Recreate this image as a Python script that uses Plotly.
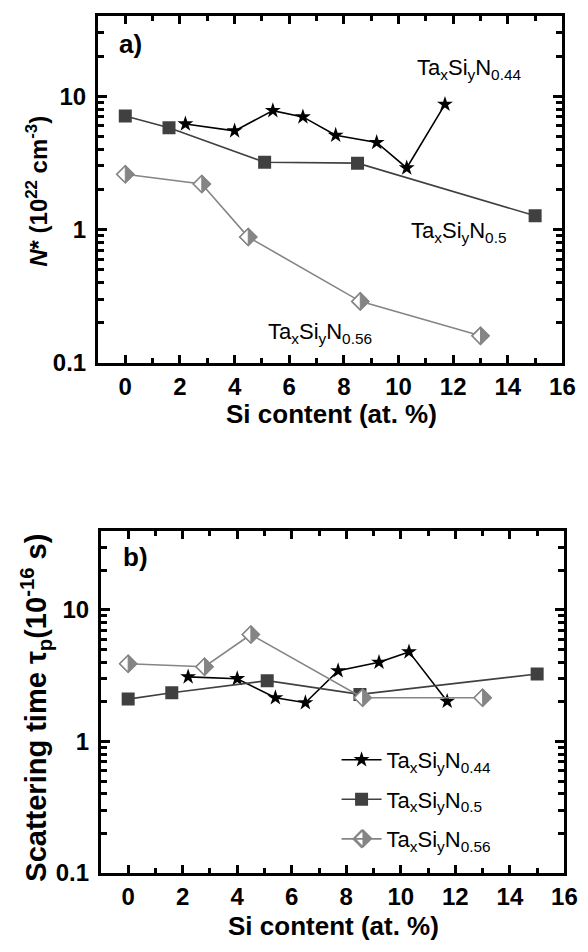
import plotly.graph_objects as go

W, H = 588, 952

# ---------------- data ----------------
x_044 = [2.2, 4.0, 5.4, 6.5, 7.7, 9.2, 10.3, 11.7]
x_050 = [0, 1.6, 5.1, 8.5, 15]
x_056 = [0, 2.8, 4.5, 8.6, 13]

N_044 = [6.2, 5.5, 7.8, 7.0, 5.1, 4.5, 2.9, 8.7]
N_050 = [7.1, 5.8, 3.2, 3.15, 1.27]
N_056 = [2.6, 2.2, 0.88, 0.29, 0.16]

tau_044 = [3.1, 3.0, 2.15, 1.97, 3.45, 4.0, 4.8, 2.02]
tau_050 = [2.1, 2.35, 2.9, 2.28, 3.26]
tau_056 = [3.9, 3.7, 6.5, 2.15, 2.15]

names = ["Ta<sub>x</sub>Si<sub>y</sub>N<sub>0.44</sub>",
         "Ta<sub>x</sub>Si<sub>y</sub>N<sub>0.5</sub>",
         "Ta<sub>x</sub>Si<sub>y</sub>N<sub>0.56</sub>"]

x_ticks = [0, 2, 4, 6, 8, 10, 12, 14, 16]
x_minor = [1, 3, 5, 7, 9, 11, 13, 15]
y_ticks = [0.1, 1, 10]
y_ticktext = ["0.1", "1", "10"]
y_minor = [0.2, 0.3, 0.4, 0.5, 0.6, 0.7, 0.8, 0.9,
           2, 3, 4, 5, 6, 7, 8, 9, 20, 30, 40]

# ---------------- style ----------------
FONT = "Liberation Sans"
C_STAR = "#000000"
C_SQ = "#404040"
C_DIA = "#858585"
D_HALF = 8.5  # half size of diamond (px)

def px(x):
    return x / W

def py(y):
    return 1 - y / H

fig = go.Figure()

def add_series(ys, xaxis, yaxis, showlegend):
    fig.add_trace(go.Scatter(
        x=x_044, y=ys[0], mode="lines+markers", name=names[0],
        line=dict(color=C_STAR, width=1.6),
        marker=dict(symbol="star", size=12, color=C_STAR),
        xaxis=xaxis, yaxis=yaxis, showlegend=showlegend, legendgroup="a"))
    fig.add_trace(go.Scatter(
        x=x_050, y=ys[1], mode="lines+markers", name=names[1],
        line=dict(color=C_SQ, width=1.6),
        marker=dict(symbol="square", size=13, color=C_SQ),
        xaxis=xaxis, yaxis=yaxis, showlegend=showlegend, legendgroup="b"))
    fig.add_trace(go.Scatter(
        x=x_056, y=ys[2], mode="lines+markers", name=names[2],
        line=dict(color=C_DIA, width=1.6),
        marker=dict(symbol="diamond", size=13, color="rgba(0,0,0,0)",
                    line=dict(color=C_DIA, width=1.5)),
        xaxis=xaxis, yaxis=yaxis, showlegend=showlegend, legendgroup="c"))

add_series([N_044, N_050, N_056], "x", "y", False)
add_series([tau_044, tau_050, tau_056], "x2", "y2", True)

# half-filled diamonds: white left half with outline, grey right half
full = f"M0,{D_HALF} L{D_HALF},0 L0,-{D_HALF} L-{D_HALF},0 Z"
half = f"M0,{D_HALF} L{D_HALF},0 L0,-{D_HALF} Z"

def diamond_shapes(xr, yr, xv, yv):
    base = dict(type="path", xref=xr, yref=yr, xsizemode="pixel", ysizemode="pixel",
                xanchor=xv, yanchor=yv, layer="above")
    return [dict(base, path=full, fillcolor="white", line=dict(color=C_DIA, width=1.5)),
            dict(base, path=half, fillcolor=C_DIA, line=dict(color=C_DIA, width=1))]

shapes = []
for xr, yr, ys in (("x", "y", N_056), ("x2", "y2", tau_056)):
    for xv, yv in zip(x_056, ys):
        shapes += diamond_shapes(xr, yr, xv, yv)
# legend symbol of the third entry (legend marker itself is transparent)
shapes += diamond_shapes("paper", "paper", px(363), py(842))
fig.update_layout(shapes=shapes)

tickfont = dict(family=FONT, size=24, color="black", weight="bold")
common_x = dict(range=[-1, 16], tickvals=x_ticks, ticks="inside", ticklen=8,
                tickwidth=2.5, tickcolor="black", showline=True, linewidth=3,
                linecolor="black", mirror="allticks", showgrid=False, zeroline=False,
                tickfont=tickfont, ticklabelstandoff=0,
                minor=dict(tickvals=x_minor, ticks="inside", ticklen=5,
                           tickwidth=2.5, tickcolor="black", showgrid=False))
common_y = dict(type="log", range=[-1, 1.602], tickvals=y_ticks, ticktext=y_ticktext,
                ticks="inside", ticklen=9, tickwidth=2.5, tickcolor="black",
                showline=True, linewidth=3, linecolor="black", mirror="allticks",
                showgrid=False, zeroline=False, tickfont=tickfont, ticklabelstandoff=4,
                minor=dict(tickvals=y_minor, ticks="inside", ticklen=6,
                           tickwidth=2.5, tickcolor="black", showgrid=False))

fig.update_layout(
    width=W, height=H, margin=dict(l=0, r=0, t=0, b=0),
    paper_bgcolor="white", plot_bgcolor="white",
    xaxis=dict(domain=[px(92), px(567)], anchor="y", **common_x),
    yaxis=dict(domain=[py(360), py(8)], anchor="x", **common_y),
    xaxis2=dict(domain=[px(95), px(569)], anchor="y2", **common_x),
    yaxis2=dict(domain=[py(877), py(530)], anchor="x2", **common_y),
    legend=dict(x=px(336), y=py(741), xanchor="left", yanchor="top",
                font=dict(family=FONT, size=22, color="black"), itemwidth=40,
                bgcolor="rgba(0,0,0,0)", tracegroupgap=8, traceorder="grouped"),
    showlegend=True,
)

ann_font_b = dict(family=FONT, size=26, color="black", weight="bold")
ann_font = dict(family=FONT, size=22, color="black")
annotations = [
    dict(text="a)", x=px(125), y=py(37), font=ann_font_b),
    dict(text="b)", x=px(130), y=py(557), font=ann_font_b),
    dict(text="Si content (at. %)", x=px(331), y=py(412), font=ann_font_b),
    dict(text="Si content (at. %)", x=px(333), y=py(931), font=ann_font_b),
    dict(text="<i>N</i>* (10<sup>22</sup> cm<sup>-3</sup>)", x=px(30), y=py(186),
         textangle=-90, font=dict(family=FONT, size=24, color="black", weight="bold")),
    dict(text="Scattering time τ<sub>p</sub>(10<sup>-16</sup> s)", x=px(29), y=py(709),
         textangle=-90, font=dict(family=FONT, size=29, color="black", weight="bold")),
    dict(text=names[0], x=px(416), y=py(62), xanchor="left", font=ann_font),
    dict(text=names[1], x=px(410), y=py(227), xanchor="left", font=ann_font),
    dict(text=names[2], x=px(264), y=py(329), xanchor="left", font=ann_font),
]
for a in annotations:
    a.setdefault("xanchor", "center")
    a.update(xref="paper", yref="paper", showarrow=False, yanchor="middle")
fig.update_layout(annotations=annotations)

fig.write_html("out.html")
